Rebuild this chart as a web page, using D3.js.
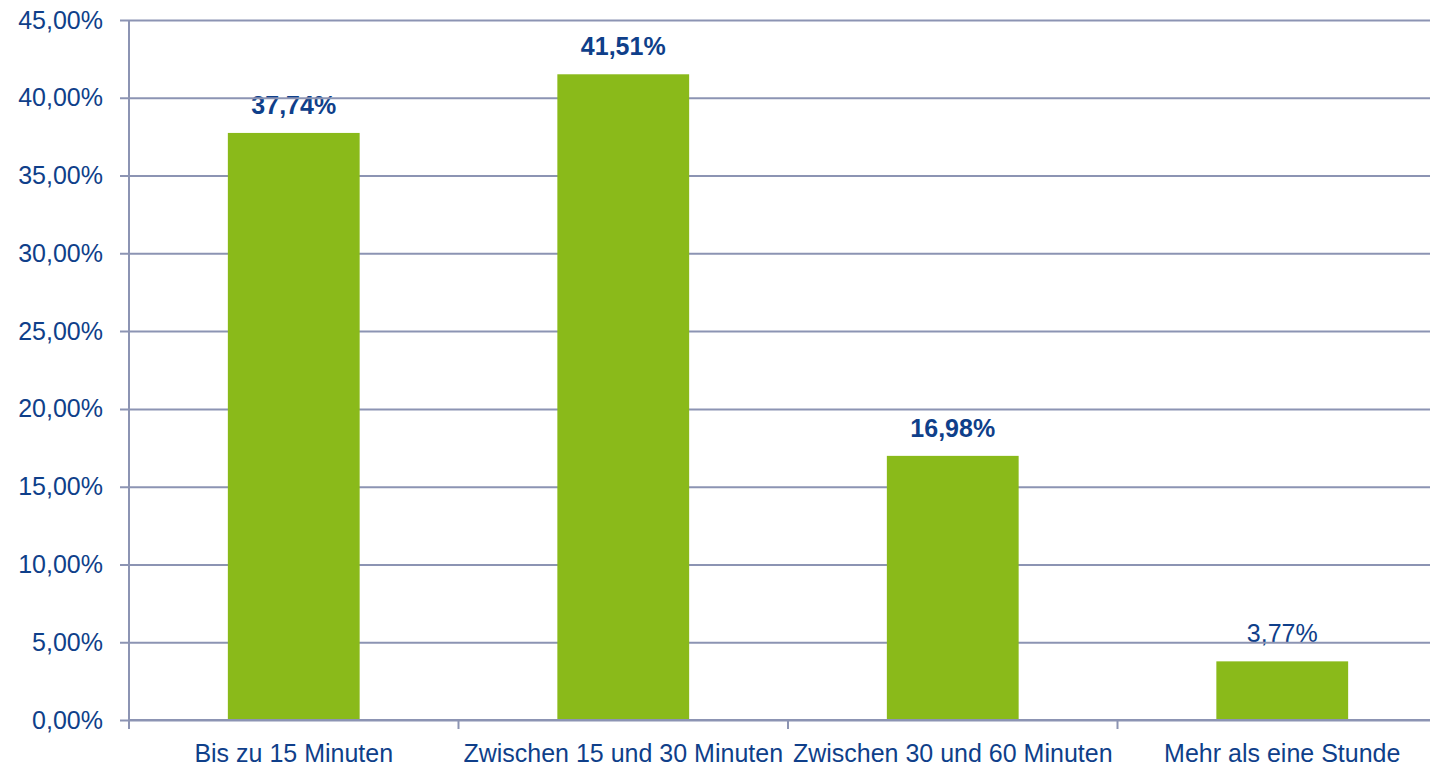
<!DOCTYPE html>
<html>
<head>
<meta charset="utf-8">
<script src="https://cdn.jsdelivr.net/npm/d3@7"></script>
<style>
  body { margin: 0; background: #fff; }
  text { font-family: "Liberation Sans", Arial, sans-serif; fill: #0f3f8a; }
</style>
</head>
<body>
<div id="chart"></div>
<script>
// data
const categories = ["Bis zu 15 Minuten", "Zwischen 15 und 30 Minuten", "Zwischen 30 und 60 Minuten", "Mehr als eine Stunde"];
const values = [37.74, 41.51, 16.98, 3.77];
const valueLabels = ["37,74%", "41,51%", "16,98%", "3,77%"];
const boldLabel = [true, true, true, false];
const yTicks = [0, 5, 10, 15, 20, 25, 30, 35, 40, 45];

const width = 1430, height = 768;
const margin = { left: 129, top: 20, bottom: 48 };
const plotRight = 1447;   // last category runs a bit past the picture edge
const gridColor = "#8c94b3";
const barColor = "#8aba1a";
const fontSize = 25;

const svg = d3.select("#chart").append("svg")
    .attr("width", width)
    .attr("height", height);

const x = d3.scaleBand()
    .domain(categories)
    .range([margin.left, plotRight])
    .paddingInner(0.6)
    .paddingOuter(0.3);

const y = d3.scaleLinear()
    .domain([0, 45])
    .range([height - margin.bottom, margin.top]);

// value labels (under the grid lines)
svg.append("g")
    .selectAll("text")
    .data(values)
    .join("text")
    .attr("x", (d, i) => x(categories[i]) + x.bandwidth() / 2)
    .attr("y", d => y(d) - 19)
    .attr("text-anchor", "middle")
    .attr("font-size", fontSize)
    .attr("font-weight", (d, i) => boldLabel[i] ? "bold" : "normal")
    .text((d, i) => valueLabels[i]);

// y axis with gridlines
const yAxis = d3.axisLeft(y)
    .tickValues(yTicks)
    .tickSize(-(plotRight - margin.left))
    .tickSizeOuter(0)
    .tickPadding(26)
    .tickFormat(d => d3.format(".2f")(d).replace(".", ",") + "%");

const yg = svg.append("g")
    .attr("transform", `translate(${margin.left},0)`)
    .call(yAxis);
yg.select(".domain").remove();
yg.selectAll(".tick line")
    .attr("x1", -9)
    .attr("stroke", gridColor)
    .attr("stroke-width", 2);
yg.selectAll(".tick text")
    .attr("font-size", fontSize)
    .attr("fill", "#0f3f8a")
    .attr("font-family", null);

// bars
svg.append("g")
    .selectAll("rect")
    .data(values)
    .join("rect")
    .attr("x", (d, i) => x(categories[i]))
    .attr("y", d => y(d))
    .attr("width", x.bandwidth())
    .attr("height", d => y(0) - y(d))
    .attr("fill", barColor);

// baseline redrawn over bars
svg.append("line")
    .attr("x1", margin.left).attr("x2", plotRight)
    .attr("y1", y(0)).attr("y2", y(0))
    .attr("stroke", gridColor).attr("stroke-width", 2);

// vertical axis line
svg.append("line")
    .attr("x1", margin.left).attr("x2", margin.left)
    .attr("y1", y(45)).attr("y2", y(0) + 9)
    .attr("stroke", gridColor).attr("stroke-width", 2);

// x axis: category separators + labels
const step = x.step();
svg.append("g")
    .selectAll("line")
    .data(categories.slice(1))
    .join("line")
    .attr("x1", c => x(c) - x.paddingInner() * step / 2)
    .attr("x2", c => x(c) - x.paddingInner() * step / 2)
    .attr("y1", y(0))
    .attr("y2", y(0) + 9)
    .attr("stroke", gridColor)
    .attr("stroke-width", 2);

svg.append("g")
    .selectAll("text")
    .data(categories)
    .join("text")
    .attr("x", c => x(c) + x.bandwidth() / 2)
    .attr("y", y(0) + 42)
    .attr("text-anchor", "middle")
    .attr("font-size", fontSize)
    .text(c => c);
</script>
</body>
</html>
